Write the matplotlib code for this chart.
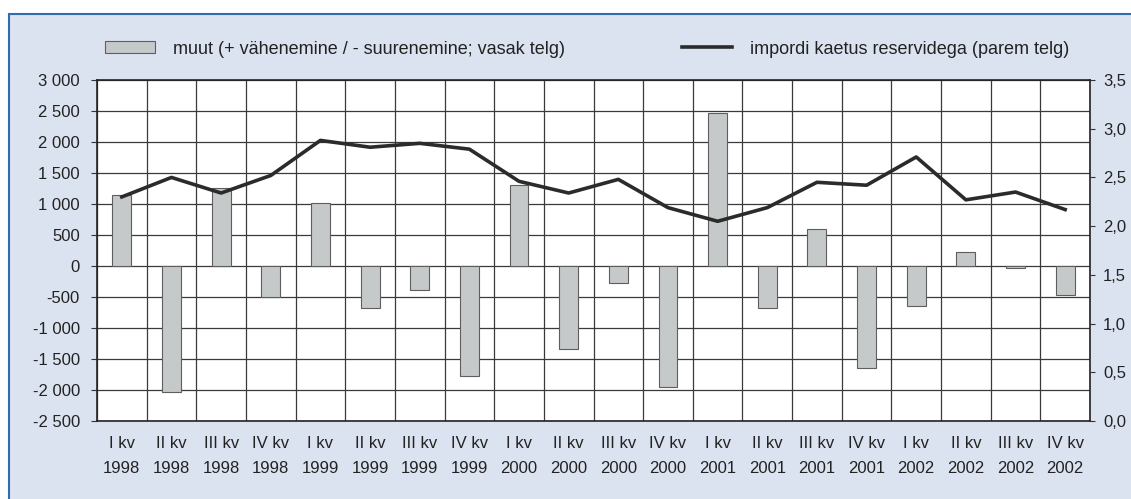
import numpy as np
import matplotlib
matplotlib.use("Agg")
import matplotlib.pyplot as plt
from matplotlib.patches import Rectangle, Patch
from matplotlib.lines import Line2D
from matplotlib.ticker import FuncFormatter

plt.rcParams['font.family'] = ['Liberation Sans', 'DejaVu Sans']
plt.rcParams['font.size'] = 12

quarters = ['I kv', 'II kv', 'III kv', 'IV kv'] * 5
years = [y for y in ['1998', '1999', '2000', '2001', '2002'] for _ in range(4)]
labels = [q + '\n' + y for q, y in zip(quarters, years)]

# muut (vasak telg)
muut = [1150, -2040, 1260, -500, 1020, -680, -380, -1770,
        1300, -1340, -280, -1950, 2460, -680, 600, -1650,
        -650, 230, -40, -460]
# impordi kaetus reservidega (parem telg)
kaetus = [2.30, 2.50, 2.34, 2.52, 2.88, 2.81, 2.85, 2.79,
          2.46, 2.34, 2.48, 2.19, 2.05, 2.19, 2.45, 2.42,
          2.71, 2.27, 2.35, 2.17]

W, H = 1131, 499
fig = plt.figure(figsize=(W / 100, H / 100), dpi=100)
fig.patch.set_facecolor('white')

# light blue frame, runs off the right and bottom edges
bg = Rectangle((9 / W, -0.1), 1.2, 1.1 - 14 / H, transform=fig.transFigure,
               facecolor='#dce3f0', edgecolor='#2f6db0', linewidth=1.5, zorder=-10)
fig.patches.append(bg)

ax = fig.add_axes([97 / W, 1 - 421 / H, (1090 - 97) / W, (421 - 80) / H])
ax.set_facecolor('white')
x = np.arange(len(muut))
ax.bar(x, muut, width=0.38, color='#c6c9c9', edgecolor='#5e5e5e', linewidth=0.8, zorder=3)
ax.set_xlim(-0.5, len(muut) - 0.5)
ax.set_ylim(-2500, 3000)
ax.set_yticks(np.arange(-2500, 3001, 500))
ax.yaxis.set_major_formatter(FuncFormatter(lambda v, p: f'{int(v):,}'.replace(',', ' ')))
ax.set_xticks(x)
ax.set_xticklabels(labels, linespacing=1.8)
ax.set_xticks(np.arange(-0.5, len(muut), 1), minor=True)
ax.tick_params(axis='x', which='major', length=0, pad=11, colors='#222222')
ax.tick_params(axis='x', which='minor', length=0)
ax.tick_params(axis='y', length=4.3, width=0.8, color='#333333', colors='#222222', pad=8)
ax.grid(axis='y', which='major', color='#3a3a3a', linewidth=0.9, zorder=1)
ax.grid(axis='x', which='minor', color='#3a3a3a', linewidth=0.9, zorder=1)
ax.set_axisbelow(True)
for s in ax.spines.values():
    s.set_color('#222222')
    s.set_linewidth(1.2)

ax2 = ax.twinx()
ax2.plot(x, kaetus, color='#2b2b2b', linewidth=2.6, zorder=5)
ax2.set_ylim(0, 3.5)
ax2.set_yticks(np.arange(0, 3.51, 0.5))
ax2.yaxis.set_major_formatter(FuncFormatter(lambda v, p: f'{v:.1f}'.replace('.', ',')))
ax2.tick_params(axis='y', length=3.5, width=0.8, color='#333333', colors='#222222', pad=6)
for s in ax2.spines.values():
    s.set_visible(False)

leg_kw = dict(loc='center left', frameon=False, borderpad=0, borderaxespad=0,
              fontsize=13, handlelength=2.75, handleheight=0.62,
              handletextpad=1.0, labelcolor='#222222')
leg1 = fig.legend([Patch(facecolor='#c6c9c9', edgecolor='#5e5e5e', linewidth=0.8)],
                  ['muut (+ vähenemine / - suurenemine; vasak telg)'],
                  bbox_to_anchor=(105 / W, 1 - 49 / H), **leg_kw)
leg2 = fig.legend([Line2D([], [], color='#2b2b2b', linewidth=2.6)],
                  ['impordi kaetus reservidega (parem telg)'],
                  bbox_to_anchor=(682 / W, 1 - 49 / H), **leg_kw)

fig.savefig('out.png', dpi=100)
